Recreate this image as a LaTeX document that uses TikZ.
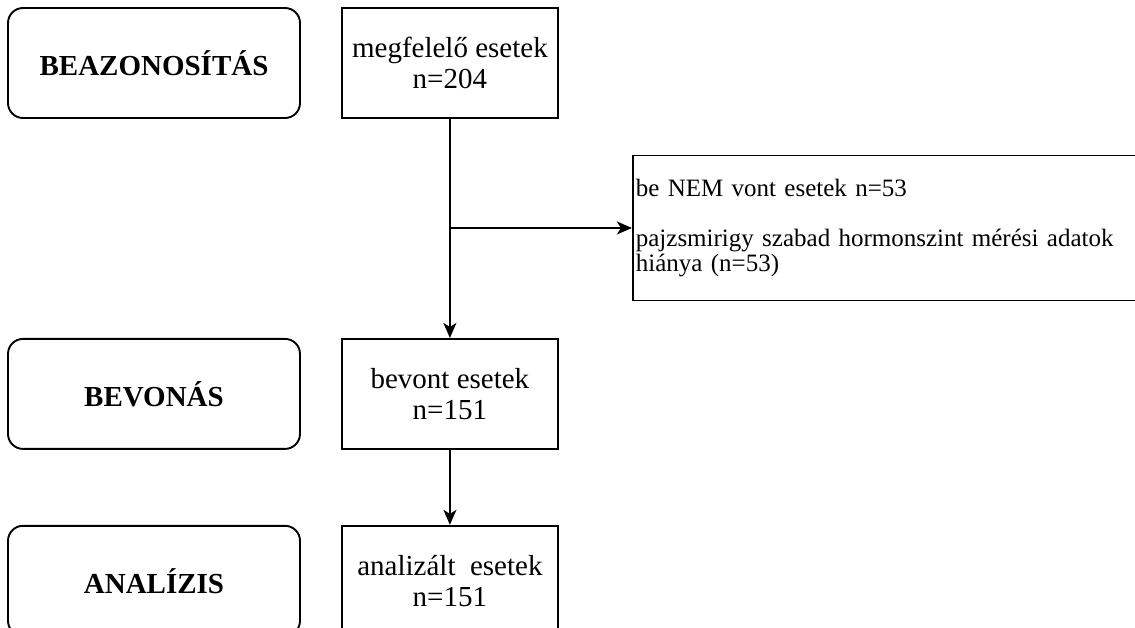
\documentclass[tikz,border=0pt]{standalone}
\usepackage{fontspec}
\setmainfont{Liberation Serif}
\usetikzlibrary{arrows.meta, positioning}

\begin{document}
\begin{tikzpicture}[>={Stealth[length=15pt, width=13pt, inset=4pt]}, line width=1.9pt,
    fazis/.style={draw, rounded corners=15pt, minimum width=292pt, minimum height=110pt, font=\fontsize{29}{31}\selectfont\bfseries},
    eset/.style={draw, align=center, minimum width=216pt, minimum height=110pt, font=\fontsize{29}{31}\selectfont},
    kizaras/.style={draw, align=left, text width=514pt, inner xsep=3pt, minimum height=145pt, font=\fontsize{25}{25}\selectfont}]
    \clip (0,0) rectangle (1135pt,-627pt);
    \fill[white] (0,0) rectangle (1135pt,-627pt);
    \node[fazis] (beaz) at (154pt,-63pt) {BEAZONOSÍTÁS};
    \node[eset, right=40pt of beaz] (megf) {megfelelő esetek\\n=204};
    \node[eset, below=219pt of megf] (bevont) {bevont esetek\\n=151};
    \node[eset, below=75pt of bevont] (anal) {analizált\ \ esetek\\n=151};
    \node[fazis, left=40pt of bevont] (bevonas) {BEVONÁS};
    \node[fazis, left=40pt of anal] (analizis) {ANALÍZIS};
    \coordinate[below=109pt of megf.south] (ag);
    \node[kizaras, right=182pt of ag] (kizart) {be NEM vont esetek n=53\\[25pt]pajzsmirigy szabad hormonszint mérési adatok\\hiánya (n=53)};
    \draw[->] (megf) -- (bevont);
    \draw[->] (ag) -- (kizart);
    \draw[->] (bevont) -- (anal);
\end{tikzpicture}
\end{document}
